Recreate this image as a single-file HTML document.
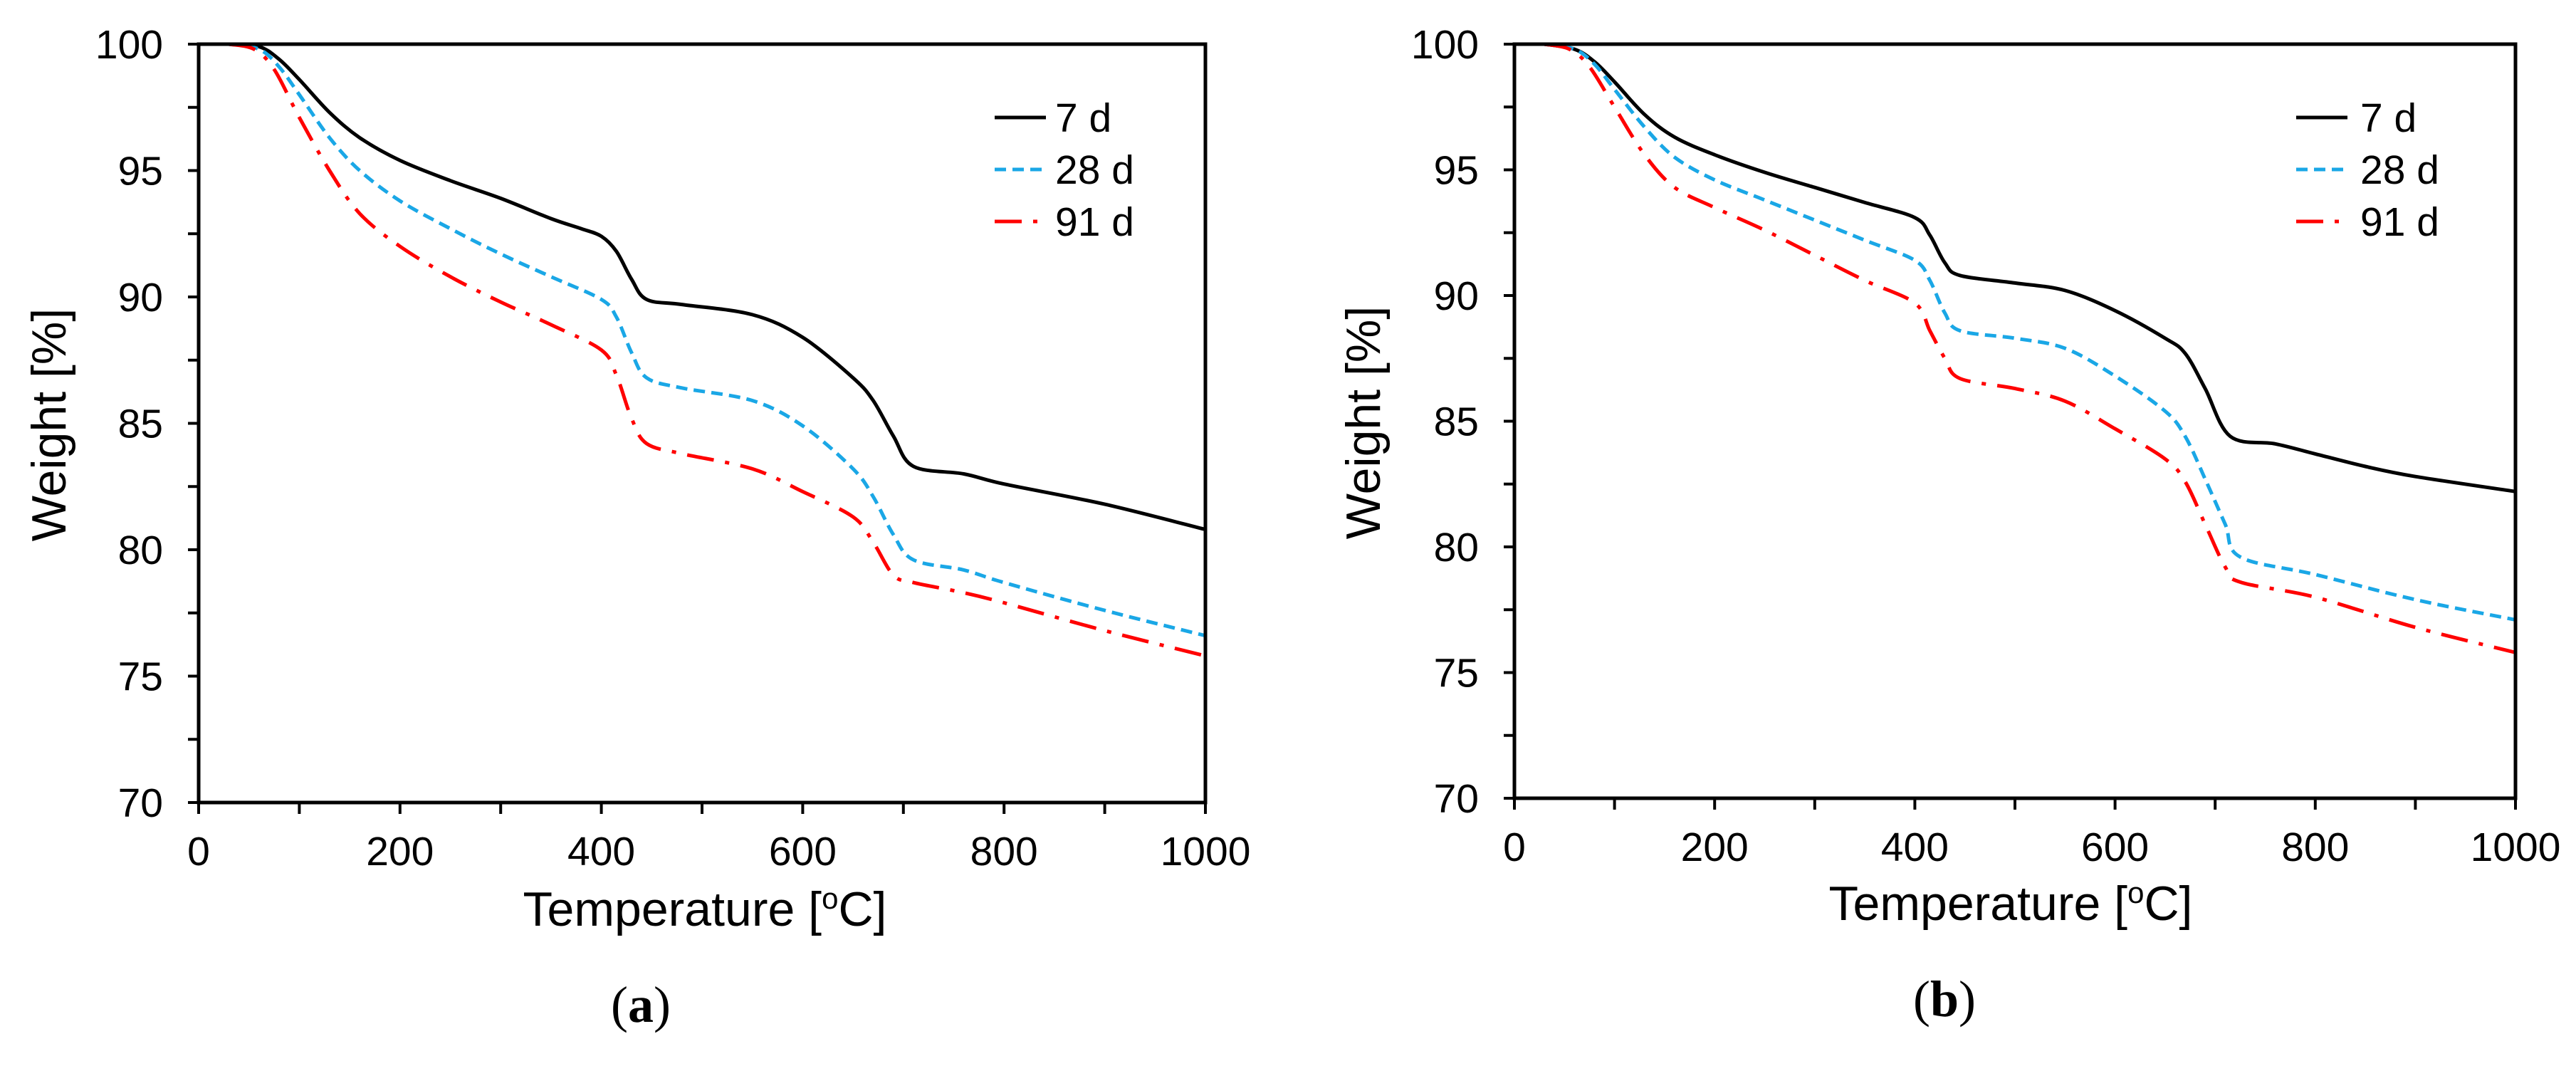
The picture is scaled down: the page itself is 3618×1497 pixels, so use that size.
<!DOCTYPE html>
<html><head><meta charset="utf-8"><style>
html,body{margin:0;padding:0;background:#fff;}
svg{display:block;}
text{font-family:"Liberation Sans",sans-serif;fill:#000;}
</style></head><body>
<svg id="fig" width="3618" height="1497" viewBox="0 0 3618 1497" xmlns="http://www.w3.org/2000/svg"></svg>
<script>
const xTicks=[0,200,400,600,800,1000];
const yTicks=[70,75,80,85,90,95,100];
const seriesNames=["7 d","28 d","91 d"];
const tempA7=[30,60,80,100,130,160,200,250,300,350,380,400,415,430,445,480,550,600,650,670,690,710,760,800,900,1000];
const wA7=[100,99.9,99.4,98.6,97.3,96.3,95.4,94.6,93.9,93.1,92.7,92.4,91.8,90.7,89.9,89.7,89.3,88.4,86.8,85.9,84.5,83.3,83.0,82.6,81.8,80.8];
const tempA28=[30,60,80,100,130,160,200,250,300,350,400,415,430,445,480,550,600,650,670,690,710,760,800,900,1000];
const wA28=[100,99.8,99.1,98.0,96.3,95.0,93.8,92.7,91.7,90.8,89.9,89.2,87.8,86.8,86.4,85.9,84.9,83.2,82.1,80.6,79.6,79.2,78.7,77.6,76.6];
const tempA91=[30,55,75,100,130,160,200,250,300,350,400,415,430,445,480,550,600,650,670,690,710,760,800,900,1000];
const wA91=[100,99.8,99.0,97.1,95.0,93.3,92.0,90.8,89.8,88.9,87.9,86.9,85.2,84.2,83.8,83.2,82.3,81.3,80.3,79.0,78.7,78.3,77.9,76.8,75.8];
const tempB7=[30,60,80,100,130,160,200,250,300,350,400,415,430,445,500,550,600,650,670,690,715,760,800,850,900,1000];
const wB7=[100,99.8,99.3,98.5,97.2,96.3,95.6,94.9,94.3,93.7,93.1,92.4,91.3,90.8,90.5,90.2,89.4,88.3,87.7,86.3,84.4,84.1,83.7,83.2,82.8,82.2];
const tempB28=[30,60,80,100,130,160,200,250,300,350,400,415,430,445,500,550,600,650,670,690,710,725,800,900,1000];
const wB28=[100,99.8,99.2,98.2,96.7,95.5,94.6,93.8,93.0,92.2,91.4,90.6,89.3,88.6,88.3,87.9,86.8,85.4,84.4,82.7,80.9,79.6,78.9,77.9,77.1];
const tempB91=[30,55,75,100,130,160,200,250,300,350,400,415,430,445,500,550,600,650,670,690,710,725,800,900,1000];
const wB91=[100,99.8,99.1,97.5,95.6,94.3,93.5,92.6,91.6,90.6,89.7,88.6,87.5,86.7,86.3,85.8,84.7,83.5,82.6,80.9,79.2,78.6,78.0,76.8,75.8];

const NS="http://www.w3.org/2000/svg";
const fig=document.getElementById('fig');
function mk(tag,attrs,parent){const e=document.createElementNS(NS,tag);for(const k in attrs)e.setAttribute(k,attrs[k]);(parent||fig).appendChild(e);return e;}
const styles=[{stroke:"#000",dash:""},{stroke:"#1aa7e6",dash:"16 9"},{stroke:"#ff0000",dash:"38 16 6 16"}];

function smoothPath(pts){
  let d="M"+pts[0][0].toFixed(1)+","+pts[0][1].toFixed(1);
  for(let i=0;i<pts.length-1;i++){
    const p0=pts[Math.max(0,i-1)],p1=pts[i],p2=pts[i+1],p3=pts[Math.min(pts.length-1,i+2)];
    const c1x=p1[0]+(p2[0]-p0[0])/6,c1y=p1[1]+(p2[1]-p0[1])/6;
    const c2x=p2[0]-(p3[0]-p1[0])/6,c2y=p2[1]-(p3[1]-p1[1])/6;
    d+=" C"+c1x.toFixed(1)+","+c1y.toFixed(1)+" "+c2x.toFixed(1)+","+c2y.toFixed(1)+" "+p2[0].toFixed(1)+","+p2[1].toFixed(1);
  }
  return d;
}

function drawChart(id,L,R,T,B,temps,weights,legX,legTextX,yTitleX,xTitleX,xTitleY,tickLabelY,capX,capY,capLetter){
  const g=mk('g',{});
  
  
  const sx=v=>L+(v-0)/1000*(R-L);
  const sy=v=>B-(v-70)/30*(B-T);
  // series
  for(let s=0;s<3;s++){
    const pts=temps[s].map((t,i)=>[sx(t),sy(weights[s][i])]);
    const p=mk('path',{d:smoothPath(pts),fill:"none",stroke:styles[s].stroke,"stroke-width":5,"stroke-dasharray":styles[s].dash,"stroke-linejoin":"round"},g);
    
    
  }
  // frame
  const fr=mk('rect',{x:L,y:T,width:R-L,height:B-T,fill:"none",stroke:"#000","stroke-width":5},g);
  
  
  // y ticks
  for(let v=70;v<=100;v+=2.5){
    const t=mk('line',{x1:L-15,x2:L,y1:sy(v),y2:sy(v),stroke:"#000","stroke-width":4},g);
    
    
  }
  yTicks.forEach(v=>{
    const t=mk('text',{x:L-50,y:sy(v)+20,"text-anchor":"end","font-size":57},g);
    t.textContent=v;
    
    
  });
  for(let v=0;v<=1000;v+=100){
    const t=mk('line',{x1:sx(v),x2:sx(v),y1:B,y2:B+16,stroke:"#000","stroke-width":4},g);
    
    
  }
  xTicks.forEach(v=>{
    const t=mk('text',{x:sx(v),y:tickLabelY,"text-anchor":"middle","font-size":57},g);
    t.textContent=v;
    
    
  });
  const yt=mk('text',{x:0,y:0,transform:"translate("+yTitleX+","+((T+B)/2+2)+") rotate(-90)","text-anchor":"middle","font-size":68},g);
  yt.textContent="Weight [%]";
  
  
  const xt=mk('text',{x:xTitleX,y:xTitleY,"text-anchor":"middle","font-size":68},g);
  xt.innerHTML='Temperature [<tspan font-size="42" dy="-24">o</tspan><tspan dy="24">C]</tspan>';
  
  
  // legend
  for(let s=0;s<3;s++){
    const yy=165+s*73;
    const ll=mk('line',{x1:legX,x2:legX+72,y1:yy,y2:yy,stroke:styles[s].stroke,"stroke-width":5,"stroke-dasharray":s==2?"38 16 6 16":styles[s].dash},g);
    
    
    const lt=mk('text',{x:legTextX,y:yy+20,"font-size":57},g);
    lt.textContent=seriesNames[s];
    
    
  }
  const cap=mk('text',{x:capX,y:capY,"text-anchor":"middle","font-size":72,style:"font-family:'Liberation Serif',serif"},g);
  cap.innerHTML='(<tspan font-weight="bold">'+capLetter+'</tspan>)';
  
  
}
drawChart('a',279,1693,62,1127,[tempA7,tempA28,tempA91],[wA7,wA28,wA91],1397,1482,92,990,1300,1215,900,1435,'a');
drawChart('b',2127,3533,62,1121,[tempB7,tempB28,tempB91],[wB7,wB28,wB91],3225,3315,1938,2824,1292,1209,2731,1427,'b');
</script>
</body></html>
